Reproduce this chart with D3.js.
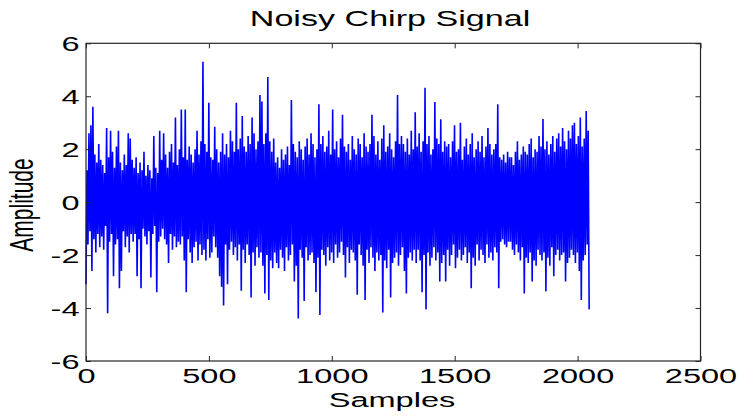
<!DOCTYPE html>
<html>
<head>
<meta charset="utf-8">
<script src="https://cdn.jsdelivr.net/npm/d3@7"></script>
<style>
  html, body { margin: 0; padding: 0; background: #fff; }
  svg { display: block; }
  text { font-family: "Liberation Sans", Arial, Helvetica, sans-serif; fill: #000; }
</style>
</head>
<body>
<svg id="chart" width="738" height="417"></svg>
<script>
// ---- data (one value per 4 samples) ----
const titleText = "Noisy Chirp Signal";
const xLabel = "Samples";
const yLabel = "Amplitude";
const nSamples = 2048;
const xTicks = [0, 500, 1000, 1500, 2000, 2500];
const yTicks = [-6, -4, -2, 0, 2, 4, 6];
const amplitude = [
  -3.1, 1.2, -1.6, 2.6, -1.1, 2.9, -2.6, 3.6, -1.4, 1.8, -1.9, 1.5, -1.2, 2.2, -1.7, 1.6,
  -1.3, 1.4, -1.8, 1.1, -0.9, 2.8, -4.2, 1.7, -1.5, 2.7, -1.2, 1.9, -2.8, 1.3, -1.6, 2.1,
  -1.4, 2.7, -3.25, 1.5, -2.6, 1.2, -1.1, 1.8, -1.7, 1.4, -1.3, 2.6, -1.9, 2.4, -1.2, 1.6,
  -1.5, 1.3, -1.2, 1.7, -2.8, 1.1, -1.4, 1.5, -3.25, 1.2, -1.0, 1.9, -1.3, 1.0, -1.6, 1.4,
  -1.1, 1.2, -2.85, 0.9, -1.2, 2.5, -0.9, 1.3, -3.4, 1.1, -1.5, 2.7, -1.3, 1.6, -1.0, 2.6,
  -1.4, 1.8, -1.6, 1.3, -2.3, 1.9, -1.2, 2.2, -1.8, 1.5, -1.3, 3.2, -1.7, 1.4, -1.5, 2.0,
  -1.6, 3.5, -1.3, 1.7, -2.2, 3.5, -3.4, 1.6, -1.4, 2.1, -1.9, 1.8, -2.3, 1.5, -1.7, 2.0,
  -1.5, 2.7, -2.2, 1.8, -1.6, 2.3, -2.0, 5.3, -1.8, 2.2, -2.2, 1.9, -1.4, 3.75, -2.1, 1.7,
  -1.9, 1.6, -1.3, 2.85, -1.7, 2.0, -2.1, 1.5, -2.8, 1.9, -3.2, 2.6, -3.9, 1.8, -1.6, 2.2,
  -3.1, 1.7, -1.8, 2.7, -1.5, 2.3, -2.0, 1.9, -1.7, 3.75, -2.2, 2.0, -1.6, 2.4, -3.35, 3.25,
  -1.8, 2.1, -2.3, 1.9, -1.6, 2.5, -2.0, 2.2, -3.6, 3.2, -1.9, 2.6, -2.4, 2.0, -1.7, 2.3,
  -2.1, 4.05, -1.9, 3.8, -2.4, 2.2, -3.45, 2.6, -2.0, 4.73, -3.7, 2.3, -2.2, 1.9, -2.5, 2.4,
  -1.9, 1.5, -2.3, 1.7, -2.5, 1.3, -1.8, 2.0, -2.1, 1.6, -2.6, 1.8, -1.7, 2.1, -2.2, 1.4,
  -2.0, 3.86, -1.6, 2.2, -3.0, 1.9, -2.4, 1.7, -4.39, 2.3, -1.8, 2.0, -2.1, 1.6, -3.73, 2.1,
  -1.7, 2.4, -2.2, 1.8, -2.0, 2.6, -1.9, 2.2, -2.3, 1.7, -3.4, 2.0, -2.1, 3.7, -4.26, 2.2,
  -1.8, 2.5, -2.0, 1.9, -2.4, 2.1, -1.7, 2.7, -2.2, 1.8, -1.9, 3.5, -2.3, 2.0, -1.6, 2.3,
  -2.1, 1.7, -1.9, 2.4, -1.5, 3.3, -2.0, 2.1, -2.85, 1.9, -1.7, 2.2, -2.3, 1.6, -1.8, 2.5,
  -1.9, 2.0, -2.2, 1.8, -3.5, 2.4, -1.6, 2.2, -2.0, 1.7, -2.4, 2.6, -3.7, 2.1, -1.8, 1.9,
  -2.3, 2.2, -1.7, 3.3, -2.1, 2.5, -2.6, 1.8, -1.9, 2.3, -2.2, 1.6, -2.0, 2.4, -4.17, 2.9,
  -2.2, 1.9, -2.5, 2.1, -1.8, 2.6, -3.6, 2.0, -2.3, 1.7, -2.1, 2.3, -1.9, 4.05, -2.4, 2.2,
  -2.0, 2.5, -1.7, 2.2, -2.6, 1.9, -3.45, 2.4, -2.1, 1.8, -1.9, 2.7, -2.2, 2.0, -1.8, 3.4,
  -2.3, 2.1, -1.8, 2.6, -2.2, 1.9, -3.4, 2.3, -2.0, 4.32, -4.05, 2.2, -1.9, 2.5, -2.4, 1.8,
  -2.1, 2.0, -1.7, 3.78, -2.2, 2.4, -1.9, 2.2, -3.0, 3.13, -2.3, 1.9, -2.0, 2.3, -3.0, 2.1,
  -1.8, 2.2, -2.4, 1.7, -2.0, 2.3, -1.6, 2.9, -2.5, 1.9, -2.1, 2.0, -1.8, 3.0, -2.2, 1.6,
  -2.0, 2.1, -1.7, 2.4, -2.3, 1.8, -1.9, 2.2, -3.25, 2.6, -2.1, 1.7, -2.4, 2.0, -1.6, 2.3,
  -2.2, 1.9, -1.8, 2.5, -2.0, 1.7, -2.3, 2.1, -1.6, 2.8, -2.1, 2.2, -1.9, 1.8, -2.2, 2.0,
  -1.7, 2.2, -1.9, 3.7, -3.25, 1.7, -1.5, 1.6, -1.4, 1.8, -1.6, 1.5, -1.7, 1.9, -1.5, 1.7,
  -1.5, 1.7, -1.8, 1.4, -2.0, 1.9, -1.6, 2.3, -1.9, 1.6, -2.2, 1.8, -1.7, 2.1, -3.45, 1.9,
  -2.1, 1.8, -2.3, 2.2, -1.9, 2.4, -3.0, 1.7, -2.2, 2.0, -2.4, 1.9, -1.8, 2.5, -2.0, 2.1,
  -2.2, 3.14, -1.9, 2.0, -3.37, 2.3, -2.1, 1.8, -2.4, 2.2, -1.7, 2.5, -2.8, 1.9, -2.0, 2.4,
  -1.8, 2.6, -2.2, 2.1, -2.0, 2.8, -1.9, 2.3, -3.0, 2.0, -2.3, 2.7, -2.1, 2.4, -1.8, 2.9,
  -2.0, 3.0, -2.3, 2.2, -1.9, 2.5, -2.6, 3.2, -3.7, 2.1, -2.2, 2.4, -2.0, 3.44, -1.6, 2.7, -4.05
];

// ---- layout ----
const plot = { left: 86, right: 700.5, top: 43.3, bottom: 361 };
const stretch = 1.55;      // horizontal text stretch of the original export
const fontSize = 21;
const fmt = d => String(d);   // plain hyphen minus, no thousands separator

const svg = d3.select("#chart");

const x = d3.scaleLinear().domain([0, 2500]).range([plot.left, plot.right]);
const y = d3.scaleLinear().domain([-6, 6]).range([plot.bottom, plot.top]);

const step = (nSamples - 1) / (amplitude.length - 1);
const points = amplitude.map((v, i) => [i * step, v]);

// signal
svg.append("path")
  .datum(points)
  .attr("fill", "none")
  .attr("stroke", "#0000ff")
  .attr("stroke-width", 1.6)
  .attr("stroke-linejoin", "miter")
  .attr("d", d3.line().x(d => x(d[0])).y(d => y(d[1])));

// axes (ticks inside, MATLAB style)
const axisColor = "#262626";
function styleAxis(g) {
  g.select(".domain").remove();
  g.selectAll(".tick line").attr("stroke", axisColor).attr("stroke-width", 1);
}

const gB = svg.append("g").attr("transform", `translate(0,${plot.bottom})`)
  .call(d3.axisBottom(x).tickValues(xTicks).tickSize(-5).tickSizeOuter(0).tickFormat(fmt))
  .call(styleAxis);
gB.selectAll(".tick text")
  .attr("y", 0).attr("dy", null)
  .attr("transform", `translate(0,22) scale(${stretch},1)`)
  .style("font-size", fontSize + "px").attr("fill", "#000");

const gL = svg.append("g").attr("transform", `translate(${plot.left},0)`)
  .call(d3.axisLeft(y).tickValues(yTicks).tickSize(-5).tickSizeOuter(0).tickFormat(fmt))
  .call(styleAxis);
gL.selectAll(".tick text")
  .attr("x", 0).attr("dy", null).attr("text-anchor", "end")
  .attr("transform", `translate(-6.5,7.5) scale(${stretch},1)`)
  .style("font-size", fontSize + "px").attr("fill", "#000");

svg.append("g").attr("transform", `translate(0,${plot.top})`)
  .call(d3.axisTop(x).tickValues(xTicks).tickSize(-5).tickSizeOuter(0).tickFormat(""))
  .call(styleAxis);
svg.append("g").attr("transform", `translate(${plot.right},0)`)
  .call(d3.axisRight(y).tickValues(yTicks).tickSize(-5).tickSizeOuter(0).tickFormat(""))
  .call(styleAxis);

// box
svg.append("rect")
  .attr("x", plot.left).attr("y", plot.top)
  .attr("width", plot.right - plot.left).attr("height", plot.bottom - plot.top)
  .attr("fill", "none").attr("stroke", axisColor).attr("stroke-width", 1.2);

// title & labels
svg.append("text")
  .attr("transform", `translate(390,26) scale(${stretch},1)`)
  .attr("text-anchor", "middle").style("font-size", "22px")
  .text(titleText);

svg.append("text")
  .attr("transform", `translate(392,406.5) scale(${stretch},1)`)
  .attr("text-anchor", "middle").style("font-size", fontSize + "px")
  .text(xLabel);

svg.append("text")
  .attr("transform", `translate(33,205) scale(${stretch},1) rotate(-90)`)
  .attr("text-anchor", "middle").style("font-size", fontSize + "px")
  .text(yLabel);
</script>
</body>
</html>
